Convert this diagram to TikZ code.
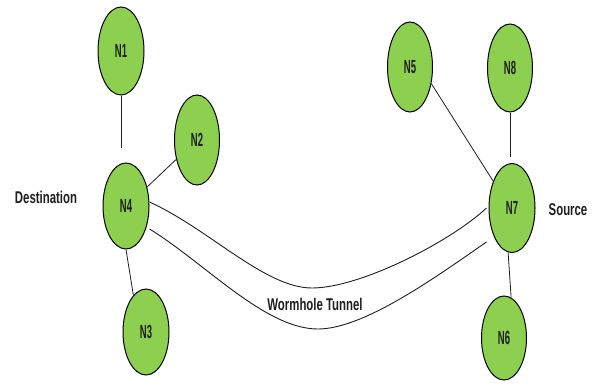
\documentclass[tikz,border=0pt]{standalone}
\usepackage{fontspec}
\setmainfont{Liberation Sans}
% condensed sans faces for node names and captions
\newfontfamily\peerfont[FakeStretch=0.5]{Liberation Sans}
\newfontfamily\captionfont[FakeStretch=0.67]{Liberation Sans}
\usetikzlibrary{shapes.geometric}
\definecolor{nodegreen}{RGB}{141,208,80}
\definecolor{inkgray}{RGB}{30,30,30}

\tikzset{
  peer/.style={ellipse, draw=black, line width=1pt, fill=nodegreen,
    inner sep=0pt, minimum width=46pt, minimum height=88pt,
    font=\peerfont\bfseries\fontsize{19}{19}\selectfont, text=inkgray},
  link/.style={draw=inkgray, line width=0.8pt},
  tunnel/.style={draw=inkgray, line width=0.9pt},
  tag/.style={anchor=base, inner sep=0pt,
    font=\captionfont\bfseries\fontsize{17}{17}\selectfont, text=inkgray}
}

\begin{document}
\begin{tikzpicture}[x=1pt, y=-1pt]
\useasboundingbox (0,0) rectangle (597,386);

% destination side
\node[peer] (N1) at (121,51)  {N1};
\node[peer, minimum width=45pt, minimum height=90pt] (N2) at (197,140) {N2};
\node[peer, minimum height=86pt] (N4) at (126,206) {N4};
\node[peer, minimum height=86pt] (N3) at (146,332) {N3};

% source side
\node[peer, minimum width=45pt, minimum height=90pt] (N5) at (410,67) {N5};
\node[peer, minimum width=45pt] (N8) at (510,68) {N8};
\node[peer, minimum height=89pt] (N7) at (512,208) {N7};
\node[peer, minimum width=45pt, minimum height=84pt] (N6) at (504,338) {N6};

% captions
\node[tag] (dst) at (46,203) {Destination};
\node[tag] (src) at (568,215) {Source};
\node[tag] (wh)  at (315,310) {Wormhole Tunnel};

% ordinary links
\draw[link, shorten >=15pt] (N1.south) -- (N1.south |- N4.north);
\draw[link] (N4.42) -- (N2.-137);
\draw[link] (N4.south) -- (N3.109);
\draw[link] (N5.-38) -- (N7.125);
\draw[link, shorten >=6pt] (N8.south) -- (N8.south |- N7.north);
\draw[link] (N7.265) -- (N6.80);

% the wormhole tunnel between N4 and N7
\coordinate (ta) at (312,288);
\coordinate (tb) at (318,329);
\draw[tunnel] ([yshift=4pt]N4.east)
  .. controls (209,229) and (265,288) .. (ta)
  .. controls (360,288) and (450,242) .. ([xshift=-2pt]N7.west);
\draw[tunnel] ([yshift=-23pt]N4.east)
  .. controls (205,263) and (265,329) .. (tb)
  .. controls (365,329) and (440,274) .. ([xshift=-2pt, yshift=-34pt]N7.west);
\end{tikzpicture}
\end{document}
